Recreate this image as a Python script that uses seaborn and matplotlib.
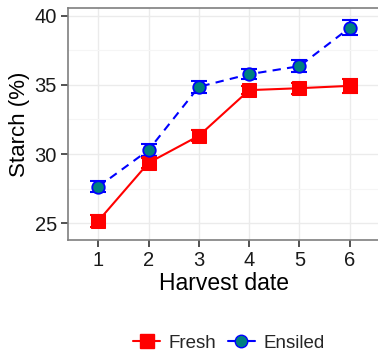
import matplotlib
matplotlib.use("Agg")
import matplotlib.pyplot as plt
import seaborn as sns
import pandas as pd
from matplotlib.lines import Line2D
from matplotlib.ticker import MultipleLocator

dates = [1, 2, 3, 4, 5, 6]
fresh = [25.17, 29.37, 31.32, 34.62, 34.76, 34.93]
fresh_err = [0.45, 0.35, 0.4, 0.3, 0.4, 0.5]
ensiled = [27.64, 30.29, 34.86, 35.77, 36.35, 39.13]
ensiled_err = [0.4, 0.45, 0.45, 0.35, 0.45, 0.55]
yticks = [25, 30, 35, 40]

sns.set_theme(style="white")
plt.rcParams['font.family'] = ['Liberation Sans', 'DejaVu Sans']

df = pd.DataFrame({
    "date": dates * 2,
    "starch": fresh + ensiled,
    "err": fresh_err + ensiled_err,
    "type": ["Fresh"] * 6 + ["Ensiled"] * 6,
})

fig = plt.figure(figsize=(3.78, 3.52), dpi=100)
ax = fig.add_axes([68 / 378, 1 - 240 / 352, 312 / 378, 232 / 352])

colors = {"Fresh": "red", "Ensiled": "blue"}
for name, c in colors.items():
    sub = df[df["type"] == name]
    ax.errorbar(sub["date"], sub["starch"], yerr=sub["err"], fmt="none",
                ecolor=c, elinewidth=1.5, capsize=6, capthick=1.5, zorder=3)

sns.lineplot(data=df[df["type"] == "Fresh"], x="date", y="starch", ax=ax,
             color="red", lw=1.5, marker="s", markersize=10.5, markerfacecolor="red",
             markeredgecolor="red", legend=False, zorder=4)
sns.lineplot(data=df[df["type"] == "Ensiled"], x="date", y="starch", ax=ax,
             color="blue", lw=1.5, marker="o", markersize=9, markerfacecolor="#008080",
             markeredgecolor="blue", markeredgewidth=1.3, legend=False, zorder=4,
             dashes=False)
ax.lines[-1].set_linestyle((0, (4, 3)))

ax.set_xlim(0.4, 6.6)
ax.set_ylim(23.8, 40.55)
ax.set_xticks(dates)
ax.set_yticks(yticks)
ax.yaxis.set_minor_locator(MultipleLocator(2.5))
ax.grid(True, which="major", color="#ebebeb", lw=1)
ax.grid(True, which="minor", axis="y", color="#f5f5f5", lw=0.8)
ax.set_axisbelow(True)

for s in ["left", "bottom", "top"]:
    ax.spines[s].set_color("#7f7f7f")
    ax.spines[s].set_linewidth(1.2)
ax.spines["right"].set_visible(False)
ax.tick_params(axis="both", which="major", length=5, width=1.2, color="#333333",
               labelsize=14.5, labelcolor="#1a1a1a", pad=3, bottom=True, left=True)
ax.tick_params(which="minor", length=0)

ax.set_xlabel("Harvest date", fontsize=16.5, color="black", labelpad=1)
ax.set_ylabel("Starch (%)", fontsize=16, color="black", labelpad=3)

handles = [
    Line2D([0], [0], color="red", lw=1.5, marker="s", ms=10.5, mfc="red", mec="red"),
    Line2D([0], [0], color="blue", lw=1.5, marker="o", ms=9, mfc="#008080", mec="blue"),
]
fig.legend(handles, ["Fresh", "Ensiled"], loc="center", bbox_to_anchor=(229 / 378, 1 - 343 / 352),
           ncol=2, frameon=False, fontsize=13.5, handlelength=1.45, handletextpad=0.45,
           columnspacing=0.6)

fig.savefig("out.png", dpi=100)
